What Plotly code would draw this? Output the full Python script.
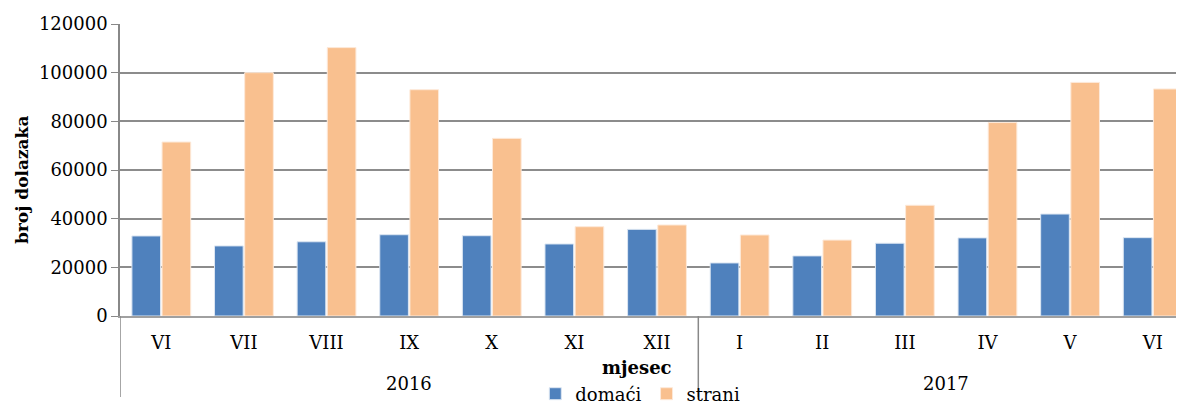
import plotly.graph_objects as go

months = ["VI", "VII", "VIII", "IX", "X", "XI", "XII", "I", "II", "III", "IV", "V", "VI\u200b"]
year_labels = ["2016", "2017"]
year_centers = [3, 9.5]          # category-index centres of the two year groups
year_dividers = [-0.5, 6.5]      # category-index boundaries of the year groups
domaci = [32900, 28800, 30500, 33400, 33000, 29600, 35600, 21800, 24700, 29900, 32100, 41900, 32200]
strani = [71500, 100000, 110300, 93000, 73000, 36700, 37400, 33300, 31200, 45500, 79500, 96000, 93300]

FONT = "DejaVu Serif"
PLOT_TOP, PLOT_BOT = 24, 316     # window pixel rows of the plot area
PLOT_LEFT, PLOT_W = 120, 1064


def py(win_y):
    """window pixel row -> paper y"""
    return (PLOT_BOT - win_y) / (PLOT_BOT - PLOT_TOP)


def px(win_x):
    """window pixel column -> paper x"""
    return (win_x - PLOT_LEFT) / PLOT_W


fig = go.Figure()
fig.add_trace(go.Bar(x=months, y=domaci, name="domaći",
                     marker=dict(color="#4F81BD", line=dict(color="#DCE6F2", width=1))))
fig.add_trace(go.Bar(x=months, y=strani, name="strani",
                     marker=dict(color="#F9C08F", line=dict(color="#FDE9D9", width=1))))

fig.update_layout(
    width=1184, height=403,
    margin=dict(l=112, r=8, t=16, b=95, autoexpand=False),
    paper_bgcolor="white", plot_bgcolor="white",
    barmode="group", bargap=0.27, bargroupgap=0.05,
    font=dict(family=FONT, size=18, color="black"),
    legend=dict(orientation="h", x=0.489, xanchor="center", y=py(394), yanchor="middle",
                font=dict(family=FONT, size=18), itemwidth=30, tracegroupgap=0,
                bgcolor="rgba(0,0,0,0)"),
    xaxis=dict(type="category", range=[-0.5, 12.379], showline=True,
               linecolor="#A0A0A0", linewidth=1.5, ticks="",
               ticklabelstandoff=10, automargin=False,
               tickfont=dict(family=FONT, size=18)),
    yaxis=dict(range=[0, 120000], tick0=0, dtick=20000, showgrid=True,
               gridcolor="#8C8C8C", gridwidth=1.5, showline=True,
               linecolor="#888888", linewidth=1.5, ticks="outside",
               ticklen=7, tickcolor="#888888", zeroline=False,
               tickformat="d", automargin=False,
               tickfont=dict(family=FONT, size=18)),
)

for xd in year_dividers:
    fig.add_shape(type="line", xref="x", yref="paper", x0=xd, x1=xd, y0=0, y1=py(397),
                  line=dict(color="#888888", width=1.5), layer="above")

for lbl, xc in zip(year_labels, year_centers):
    fig.add_annotation(text=lbl, xref="x", yref="paper", x=xc, y=py(383),
                       xanchor="center", yanchor="middle", showarrow=False,
                       font=dict(family=FONT, size=18))

fig.add_annotation(text="<b>mjesec</b>", xref="paper", yref="paper", x=px(637),
                   y=py(367), xanchor="center", yanchor="middle", showarrow=False,
                   font=dict(family=FONT, size=18))

fig.add_annotation(text="<b>broj dolazaka</b>", xref="paper", yref="paper", x=px(22),
                   y=py(180), xanchor="center", yanchor="middle", showarrow=False,
                   textangle=-90, font=dict(family=FONT, size=17))

fig.write_html("out.html")
